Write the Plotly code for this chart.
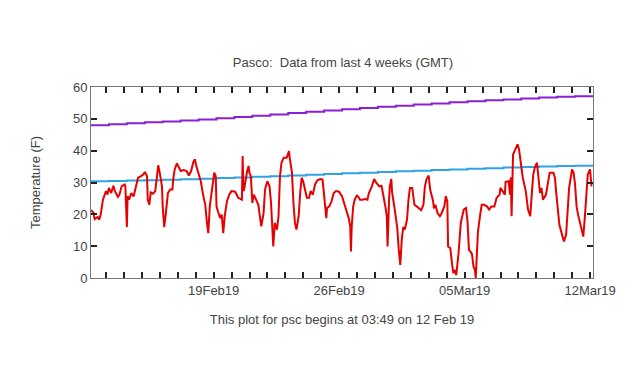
import pandas as pd
import plotly.graph_objects as go

start = pd.Timestamp("2019-02-12 03:49")

# Observed temperature (hours since start, deg F)
obs_hours = [0, 3, 5, 9, 11, 13, 16, 20, 22, 24, 27, 30, 32, 36, 38, 41, 45, 46, 48, 49,
             51, 54, 57, 60, 63, 67, 70, 72, 75, 76, 78, 80, 83, 86, 88, 90, 92, 95, 96, 98,
             100, 103, 106, 109, 110, 112, 115, 117, 120, 124, 128, 131, 134, 137, 139, 141, 144, 147, 150, 153,
             155, 157, 159, 162, 165, 167, 168, 170, 173, 175, 177, 179, 182, 185, 188, 193, 197, 202, 203, 204,
             205, 209, 211, 212, 214, 216, 218, 221, 224, 226, 228, 231, 233, 236, 239, 241, 242, 244, 246, 249,
             251, 253, 255, 258, 262, 265, 266, 269, 271, 273, 275, 278, 280, 282, 284, 286, 289, 292, 294, 297,
             300, 303, 307, 310, 312, 315, 316, 319, 322, 325, 328, 332, 336, 339, 342, 345, 347, 348, 349, 351,
             353, 356, 358, 360, 363, 367, 370, 372, 376, 379, 382, 386, 389, 391, 394, 396, 397, 399, 400, 402,
             403, 406, 408, 410, 412, 414, 416, 418, 420, 423, 425, 427, 430, 433, 436, 439, 442, 445, 447, 449,
             452, 454, 456, 458, 459, 461, 464, 467, 469, 473, 475, 477, 478, 481, 483, 485, 487, 489, 492, 495,
             499, 502, 504, 506, 508, 510, 512, 514, 515, 516, 518, 521, 523, 526, 530, 533, 536, 540, 543, 547,
             548, 551, 554, 555, 559, 561, 562, 563, 565, 568, 571, 573, 575, 578, 580, 582, 585, 588, 590, 592,
             594, 597, 599, 601, 603, 605, 609, 611, 614, 619, 621, 623, 627, 630, 633, 636, 638, 640, 644, 646,
             648, 650, 652, 655, 659, 661, 663, 665, 668, 670]
obs_temp = [21.3, 20.6, 18.5, 19.2, 18.3, 19.9, 24.6, 27.3, 26.2, 28.3, 26.7, 29.0, 27.3, 25.5, 26.1, 28.8, 29.4, 28.8, 16.0, 25.7,
            24.6, 26.7, 25.6, 28.8, 31.5, 32.0, 32.5, 33.3, 32.0, 24.6, 23.0, 26.9, 26.5, 27.3, 32.5, 35.4, 33.1, 28.8, 22.5, 16.0,
            19.9, 26.7, 27.8, 27.8, 30.9, 34.1, 36.0, 35.2, 33.6, 33.9, 33.6, 32.2, 33.6, 36.4, 37.3, 35.2, 32.5, 30.4, 26.2, 23.0,
            17.8, 14.1, 22.5, 28.8, 33.1, 32.0, 22.5, 20.9, 18.8, 19.9, 14.1, 19.4, 24.1, 26.2, 27.3, 27.1, 25.2, 24.6, 38.3, 27.3,
            27.8, 33.6, 35.2, 33.1, 32.0, 23.6, 26.2, 24.6, 23.0, 19.4, 16.2, 20.4, 27.8, 30.4, 28.8, 23.6, 19.4, 9.9, 17.3, 15.2,
            19.4, 32.0, 36.2, 37.8, 37.8, 39.9, 37.8, 33.1, 23.6, 17.3, 15.2, 19.4, 26.7, 31.5, 30.4, 27.8, 25.2, 25.2, 27.3, 26.2,
            29.4, 30.7, 31.1, 30.9, 26.7, 18.8, 22.0, 22.5, 24.1, 26.7, 27.3, 27.1, 25.7, 23.6, 21.5, 18.8, 16.2, 8.3, 16.2, 22.5,
            24.6, 25.9, 25.5, 24.6, 24.6, 24.8, 24.6, 26.7, 28.8, 31.1, 29.9, 28.8, 28.9, 26.7, 22.5, 19.4, 9.9, 24.6, 28.8, 31.1,
            27.0, 22.5, 18.3, 15.7, 8.8, 4.1, 12.0, 16.0, 15.2, 18.3, 24.6, 28.3, 28.3, 23.0, 22.5, 21.9, 21.3, 23.0, 28.8, 30.9,
            32.2, 27.8, 25.9, 24.1, 21.9, 23.0, 20.4, 19.4, 20.2, 22.5, 25.7, 24.1, 9.9, 9.4, 5.1, 1.5, 2.5, 0.9, 7.8, 17.3,
            21.5, 22.0, 17.8, 8.8, 8.3, 7.5, 3.6, 2.5, 0.0, 5.1, 14.6, 19.9, 23.0, 23.0, 22.5, 21.5, 22.5, 22.5, 25.2, 26.2,
            28.3, 27.3, 26.2, 30.2, 30.4, 26.2, 31.6, 19.4, 38.8, 40.4, 42.0, 40.4, 36.7, 31.5, 29.4, 27.3, 21.5, 19.4, 26.2, 32.5,
            34.6, 36.2, 31.5, 26.7, 28.3, 24.6, 26.2, 29.4, 33.1, 33.1, 31.5, 26.2, 16.7, 14.1, 11.5, 13.6, 19.9, 28.3, 34.1, 33.1,
            29.4, 22.5, 19.9, 16.7, 13.0, 18.8, 27.3, 32.5, 34.1, 28.8]

# Daily normals (Feb 12 .. Mar 12)
normal_days = list(range(29))
normal_high = [48.0, 48.3, 48.6, 48.9, 49.2, 49.5, 49.8, 50.2, 50.6, 51.0, 51.4, 51.8, 52.2, 52.6, 53.0,
               53.4, 53.8, 54.1, 54.5, 54.8, 55.2, 55.5, 55.8, 56.1, 56.4, 56.7, 56.9, 57.1, 57.3]
normal_low = [30.4, 30.5, 30.6, 30.7, 30.9, 31.0, 31.2, 31.4, 31.6, 31.8, 32.0, 32.2, 32.4, 32.7, 32.9,
              33.1, 33.3, 33.5, 33.7, 33.9, 34.1, 34.3, 34.5, 34.7, 34.9, 35.0, 35.2, 35.3, 35.5]

x_label_dates = ["2019-02-19", "2019-02-26", "2019-03-05", "2019-03-12"]
x_label_text = ["19Feb19", "26Feb19", "05Mar19", "12Mar19"]

obs_x = [start + pd.Timedelta(hours=h) for h in obs_hours]
norm_x = [start + pd.Timedelta(days=d) for d in normal_days]

# daily ticks, labelled weekly
tick_days = pd.date_range("2019-02-13", "2019-03-12", freq="D")
label_map = dict(zip(pd.to_datetime(x_label_dates), x_label_text))
tick_vals = [d.strftime("%Y-%m-%d") for d in tick_days]
tick_text = [label_map.get(d, "") for d in tick_days]

fig = go.Figure()
fig.add_trace(go.Scatter(x=norm_x, y=normal_high, mode="lines", line=dict(color="#8a1fd6", width=2, shape="hv"),
                         showlegend=False, hoverinfo="skip"))
fig.add_trace(go.Scatter(x=norm_x, y=normal_low, mode="lines", line=dict(color="#2fa3e6", width=2, shape="hv"),
                         showlegend=False, hoverinfo="skip"))
fig.add_trace(go.Scatter(x=obs_x, y=obs_temp, mode="lines", line=dict(color="#e60000", width=2),
                         showlegend=False))

W, H = 632, 358
font = dict(family="Liberation Sans, Arial, sans-serif", size=13, color="#444444")
fig.update_layout(
    width=W, height=H,
    margin=dict(l=83, r=47, t=79, b=88),
    paper_bgcolor="white", plot_bgcolor="white",
    font=font,
    title=dict(text="Pasco:  Data from last 4 weeks (GMT)", x=0.53, xanchor="center",
               y=1 - 54 / H, yanchor="middle", font=dict(size=13, color="#444444")),
    xaxis=dict(
        range=[start, start + pd.Timedelta(days=28)],
        tickmode="array", tickvals=tick_vals, ticktext=tick_text,
        ticks="inside", ticklen=6, tickwidth=1.5, tickcolor="#222222",
        showline=True, linecolor="#777777", linewidth=1, mirror="allticks",
        showgrid=False, zeroline=False,
        title=dict(text="This plot for psc begins at 03:49 on 12 Feb 19", standoff=18, font=dict(size=13)),
        tickfont=dict(size=13),
    ),
    yaxis=dict(
        range=[0, 60], dtick=10,
        ticks="inside", ticklen=6, tickwidth=1.5, tickcolor="#222222",
        showline=True, linecolor="#777777", linewidth=1, mirror="allticks",
        showgrid=False, zeroline=False,
        title=dict(text="Temperature (F)", standoff=29, font=dict(size=13)),
        tickfont=dict(size=13),
    ),
)

fig.write_html("out.html")
